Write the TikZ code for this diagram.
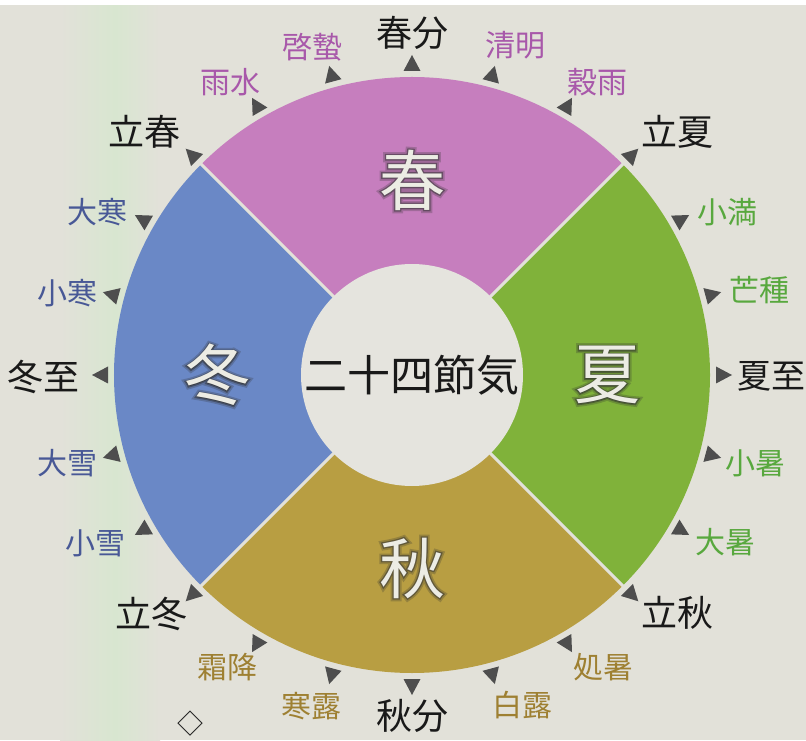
\documentclass[tikz,border=0pt]{standalone}
\usepackage{fontspec}
\setmainfont{Noto Sans CJK JP}
\newfontfamily\glowwide[FakeBold=9]{Noto Sans CJK JP}
\newfontfamily\glownarrow[FakeBold=4]{Noto Sans CJK JP}
\usetikzlibrary{calc}
\definecolor{bgc}{RGB}{226,225,217}
\definecolor{greentint}{RGB}{216,230,208}
\definecolor{innerc}{RGB}{229,228,222}
\definecolor{springc}{RGB}{198,126,190}
\definecolor{summerc}{RGB}{128,178,58}
\definecolor{autumnc}{RGB}{184,158,66}
\definecolor{winterc}{RGB}{106,136,198}
\definecolor{springt}{RGB}{168,88,170}
\definecolor{summert}{RGB}{88,168,62}
\definecolor{autumnt}{RGB}{158,128,50}
\definecolor{wintert}{RGB}{72,88,150}
\definecolor{blackt}{RGB}{25,25,25}
\definecolor{trifill}{RGB}{78,78,78}
\definecolor{charfill}{RGB}{236,236,228}
\definecolor{charshadow}{RGB}{50,50,50}
\tikzset{
  lblk/.style={text=blackt, inner sep=0pt, font=\fontsize{36}{40}\selectfont},
  lsp/.style={text=springt, inner sep=0pt, font=\fontsize{30}{34}\selectfont},
  lsu/.style={text=summert, inner sep=0pt, font=\fontsize{30}{34}\selectfont},
  lau/.style={text=autumnt, inner sep=0pt, font=\fontsize{30}{34}\selectfont},
  lwi/.style={text=wintert, inner sep=0pt, font=\fontsize{30}{34}\selectfont},
  divider/.style={draw=bgc, line width=3pt},
  seasontext/.style={text=charfill, inner sep=0pt, font=\fontsize{66}{70}\selectfont},
  glowouter/.style={text=charshadow, text opacity=0.26, inner sep=0pt, font=\glowwide\fontsize{66}{70}\selectfont},
  glowinner/.style={text=charshadow, text opacity=0.5, inner sep=0pt, font=\glownarrow\fontsize{66}{70}\selectfont},
  centertext/.style={circle, fill=innerc, minimum size=222pt, inner sep=0pt, text=blackt, font=\fontsize{43}{46}\selectfont},
  trimark/.style={fill=trifill},
}
\newcommand\seasonchar[3]{%
  \node[glowouter] at (#2) {#3};
  \node[glowinner] at (#2) {#3};
  \node[seasontext] (#1) at (#2) {#3};
}
\begin{document}
\begin{tikzpicture}[x=1pt,y=1pt]
\useasboundingbox (0,0) rectangle (806,740);
\fill[bgc] (0,0) rectangle (806,740);
\shade[left color=bgc, right color=greentint] (60,0) rectangle (115,740);
\shade[left color=greentint, right color=bgc] (115,0) rectangle (160,740);
\fill[white] (0,735) rectangle (806,740);
\coordinate (C) at (412,365);
% sectors
\fill[springc] (C) -- ($(C)+(45:298pt)$) arc[start angle=45, end angle=135, radius=298pt] -- cycle;
\fill[winterc] (C) -- ($(C)+(135:298pt)$) arc[start angle=135, end angle=225, radius=298pt] -- cycle;
\fill[autumnc] (C) -- ($(C)+(225:298pt)$) arc[start angle=225, end angle=315, radius=298pt] -- cycle;
\fill[summerc] (C) -- ($(C)+(315:298pt)$) arc[start angle=315, end angle=405, radius=298pt] -- cycle;
\foreach \a in {45,135,225,315}{
  \draw[divider] (C) -- ($(C)+(\a:299pt)$);
}
% center
\node[centertext] (center) at (C) {二十四節気};
% triangle markers
\foreach \k in {0,...,23}{
  \pgfmathsetmacro\ang{90-15*\k}
  \fill[trimark, shift={(C)}, rotate=\ang] (304pt,-8.5pt) -- (320pt,0pt) -- (304pt,8.5pt) -- cycle;
}
% season characters
\coordinate (ps) at ($(C)+(90:195pt)$);
\coordinate (pu) at ($(C)+(0:195pt)$);
\coordinate (pa) at ($(C)+(-90:193pt)$);
\coordinate (pw) at ($(C)+(180:195pt)$);
\seasonchar{haru}{ps}{春}
\seasonchar{natsu}{pu}{夏}
\seasonchar{aki}{pa}{秋}
\seasonchar{fuyu}{pw}{冬}
% labels
\node[lblk] (shunbun) at (412,707) {春分};
\node[lsp] (seimei) at (515,695) {清明};
\node[lsp] (kokuu) at (597,658) {穀雨};
\node[lblk] (rikka) at (677,608) {立夏};
\node[lsu] (shoman) at (727,528) {小満};
\node[lsu] (boshu) at (759,450) {芒種};
\node[lblk, font=\fontsize{34}{38}\selectfont] (geshi) at (771,364) {夏至};
\node[lsu] (shosho) at (755,277) {小暑};
\node[lsu] (taisho) at (725,198) {大暑};
\node[lblk] (risshu) at (677,127) {立秋};
\node[lau] (shosho2) at (603,73) {処暑};
\node[lau] (hakuro) at (522,35) {白露};
\node[lblk] (shubun) at (412,24) {秋分};
\node[lau] (kanro) at (311,34) {寒露};
\node[lau] (soko) at (227,73) {霜降};
\node[lblk] (ritto) at (151,126) {立冬};
\node[lwi] (shosetsu) at (95,197) {小雪};
\node[lwi] (taisetsu) at (67,277) {大雪};
\node[lblk] (toji) at (44,363) {冬至};
\node[lwi] (shokan) at (67,447) {小寒};
\node[lwi] (daikan) at (97,528) {大寒};
\node[lblk] (risshun) at (144,608) {立春};
\node[lsp] (usui) at (230,658) {雨水};
\node[lsp] (keichitsu) at (312,693) {啓蟄};
\node[inner sep=0pt, text=blackt, font=\fontsize{26}{28}\selectfont] (mark) at (190,16) {◇};
\end{tikzpicture}
\end{document}
